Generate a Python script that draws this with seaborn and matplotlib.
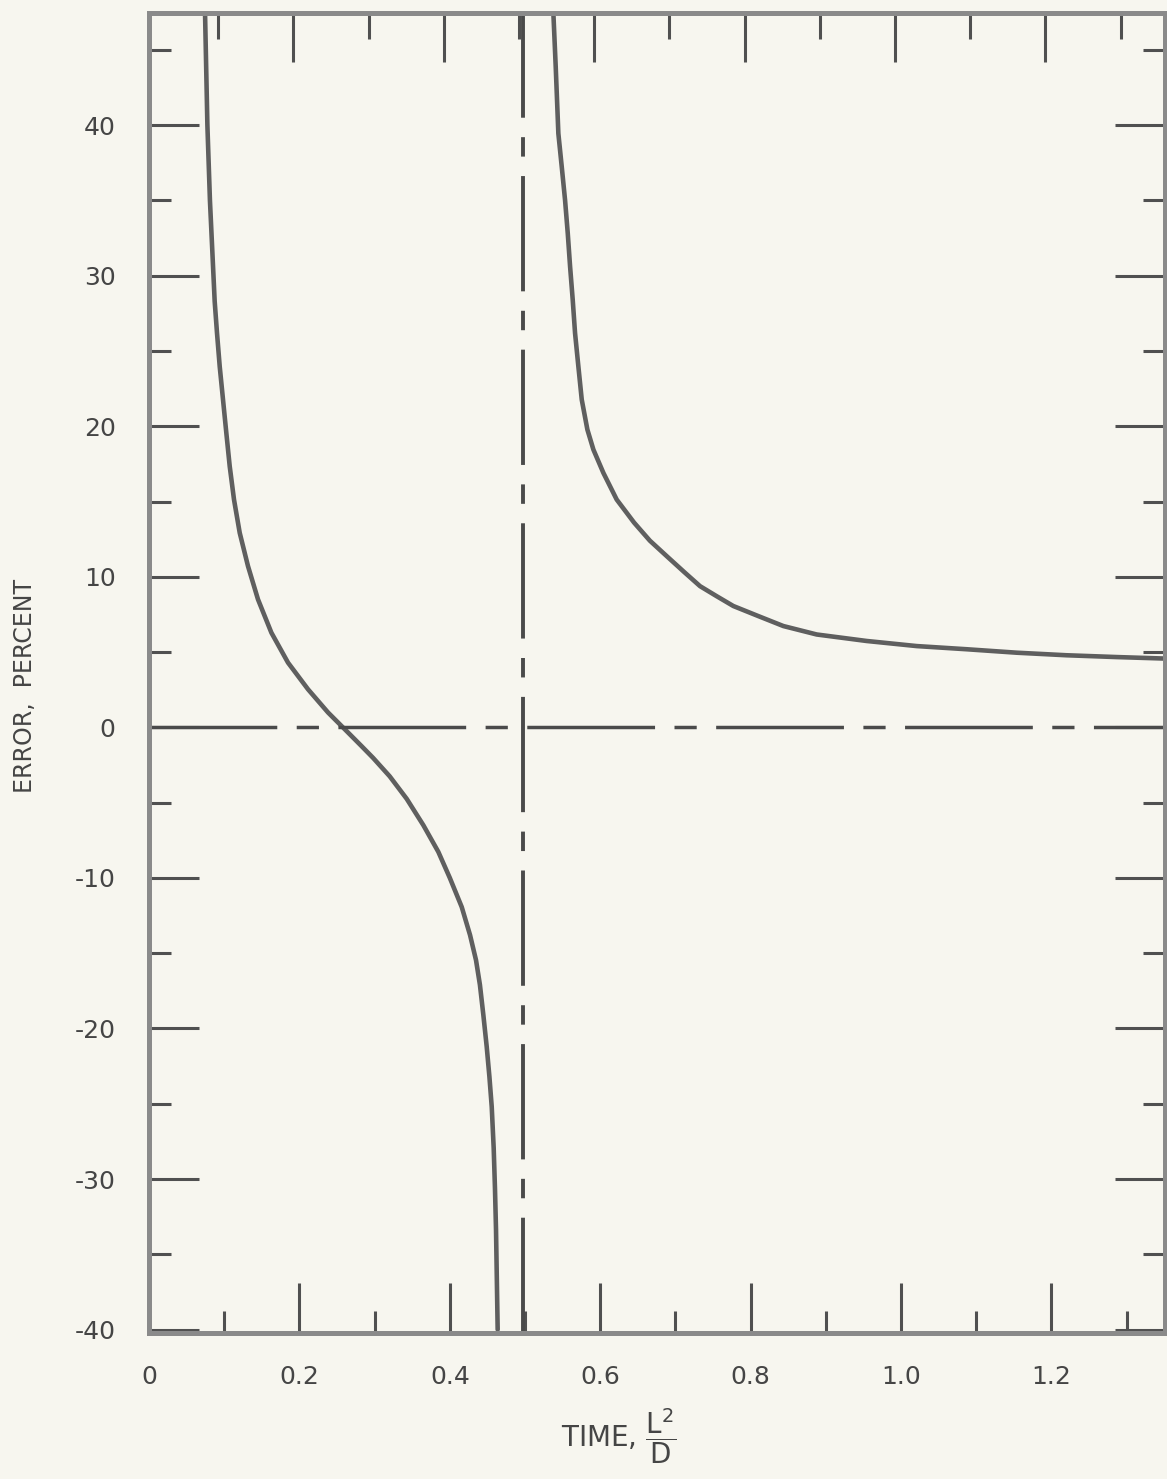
import numpy as np
import pandas as pd
import seaborn as sns
import matplotlib.pyplot as plt
from matplotlib.ticker import MultipleLocator

"""Values read off the chart"""

# branch left of the asymptote
left_time=[0.0745,0.0776,0.081,0.0873,0.0904,0.0940,0.0984,0.1028,0.1073,0.1130,0.1206,0.1316,
           0.1449,0.1627,0.1848,0.2114,0.2380,0.2602,0.2823,0.298,0.320,0.3427,0.3648,0.3847,
           0.400,0.4158,0.4269,0.4348,0.440,0.4446,0.449,0.4526,0.4557,0.4583,0.460,0.4614,
           0.4623,0.4636]
left_error=[47.4,40.0,35.0,28.3,26.19,23.97,21.76,19.55,17.34,15.13,12.92,10.71,
            8.50,6.29,4.30,2.53,0.99,-0.12,-1.23,-2.03,-3.25,-4.75,-6.5,-8.27,
            -10.0,-11.93,-13.8,-15.46,-17.1,-19.12,-21.2,-23.19,-25.2,-27.93,-30.6,-33.36,
            -36.1,-40.0]

# branch right of the asymptote
right_time=[0.5377,0.5408,0.5443,0.5488,0.5532,0.5568,0.5599,0.5634,0.5665,0.5709,0.5754,
            0.5829,0.5909,0.6042,0.6219,0.645,0.666,0.690,0.712,0.7327,0.7549,0.777,0.8103,
            0.8435,0.8878,0.954,1.0208,1.087,1.1538,1.220,1.2868,1.351]
right_error=[47.41,43.87,39.45,37.24,35.03,32.82,30.61,28.40,26.19,23.98,21.77,
             19.78,18.45,16.90,15.13,13.6,12.4,11.3,10.3,9.38,8.71,8.06,7.39,
             6.73,6.17,5.74,5.40,5.19,4.96,4.79,4.67,4.57]

zero_error=0
asymptote_time=0.497

x_ticks=[0,0.2,0.4,0.6,0.8,1.0,1.2]
x_tick_labels=['0','0.2','0.4','0.6','0.8','1.0','1.2']
y_ticks=[-40,-30,-20,-10,0,10,20,30,40]
y_tick_labels=['-40','-30','-20','-10','0','10','20','30','40']

left_df=pd.DataFrame({'time':left_time,'error':left_error})
right_df=pd.DataFrame({'time':right_time,'error':right_error})

"""Style"""
paper='#f7f6ef'
ink='#454545'
sns.set_style('ticks')
plt.rcParams['font.family']=['DejaVu Sans']
plt.rcParams['lines.scale_dashes']=False
plt.rcParams['text.color']=ink
plt.rcParams['mathtext.fontset']='dejavusans'

fig=plt.figure(figsize=(11.67,14.79),dpi=100,facecolor=paper)
ax=fig.add_axes([0.1277,0.0990,0.8706,0.8922])
ax.set_facecolor(paper)

"""Curves"""
curve_color='#5f5f5f'
sns.lineplot(data=left_df,x='time',y='error',ax=ax,color=curve_color,lw=3.3)
sns.lineplot(data=right_df,x='time',y='error',ax=ax,color=curve_color,lw=3.3)

# zero line and asymptote
ax.axhline(zero_error,color='#4a4a4a',lw=2.5,linestyle=(0,(92,14,16,14)))
ax.axvline(asymptote_time,color='#4a4a4a',lw=2.8,linestyle=(0,(83,14,14,14)))

"""Axes"""
ax.set_xlim(0,1.351)
ax.set_ylim(-40.2,47.45)

ax.set_xticks(x_ticks)
ax.set_xticklabels(x_tick_labels)
ax.xaxis.set_minor_locator(MultipleLocator(0.1))
ax.set_yticks(y_ticks)
ax.set_yticklabels(y_tick_labels)
ax.yaxis.set_minor_locator(MultipleLocator(5))

ax.tick_params(which='both',direction='in',color='#505050',width=2.2,labelsize=18,labelcolor=ink)
ax.tick_params(axis='y',which='both',right=True,pad=24)
ax.tick_params(axis='x',which='both',pad=23)
ax.tick_params(which='major',length=36)
ax.tick_params(which='minor',length=16)

# top ticks sit slightly left of the bottom ones on the original sheet
top=ax.secondary_xaxis('top',functions=(lambda t:t+0.008,lambda t:t-0.008))
top.set_xticks(x_ticks)
top.xaxis.set_minor_locator(MultipleLocator(0.1))
top.tick_params(which='both',direction='in',color='#505050',width=2.2,labeltop=False)
top.tick_params(which='major',length=35)
top.tick_params(which='minor',length=19)
top.spines['top'].set_visible(False)

for s in ax.spines.values():
    s.set_linewidth(3.6)
    s.set_color('#8a8a8a')

ax.set_xlabel(r'TIME, $\dfrac{\mathrm{L}^{2}}{\mathrm{D}}$',fontsize=20,color=ink)
ax.xaxis.set_label_coords(0.462,-0.056)
ax.set_ylabel('ERROR,  PERCENT',fontsize=17,color=ink)
ax.yaxis.set_label_coords(-0.110,0.49)

plt.savefig('out.png',dpi=100,facecolor=paper)
